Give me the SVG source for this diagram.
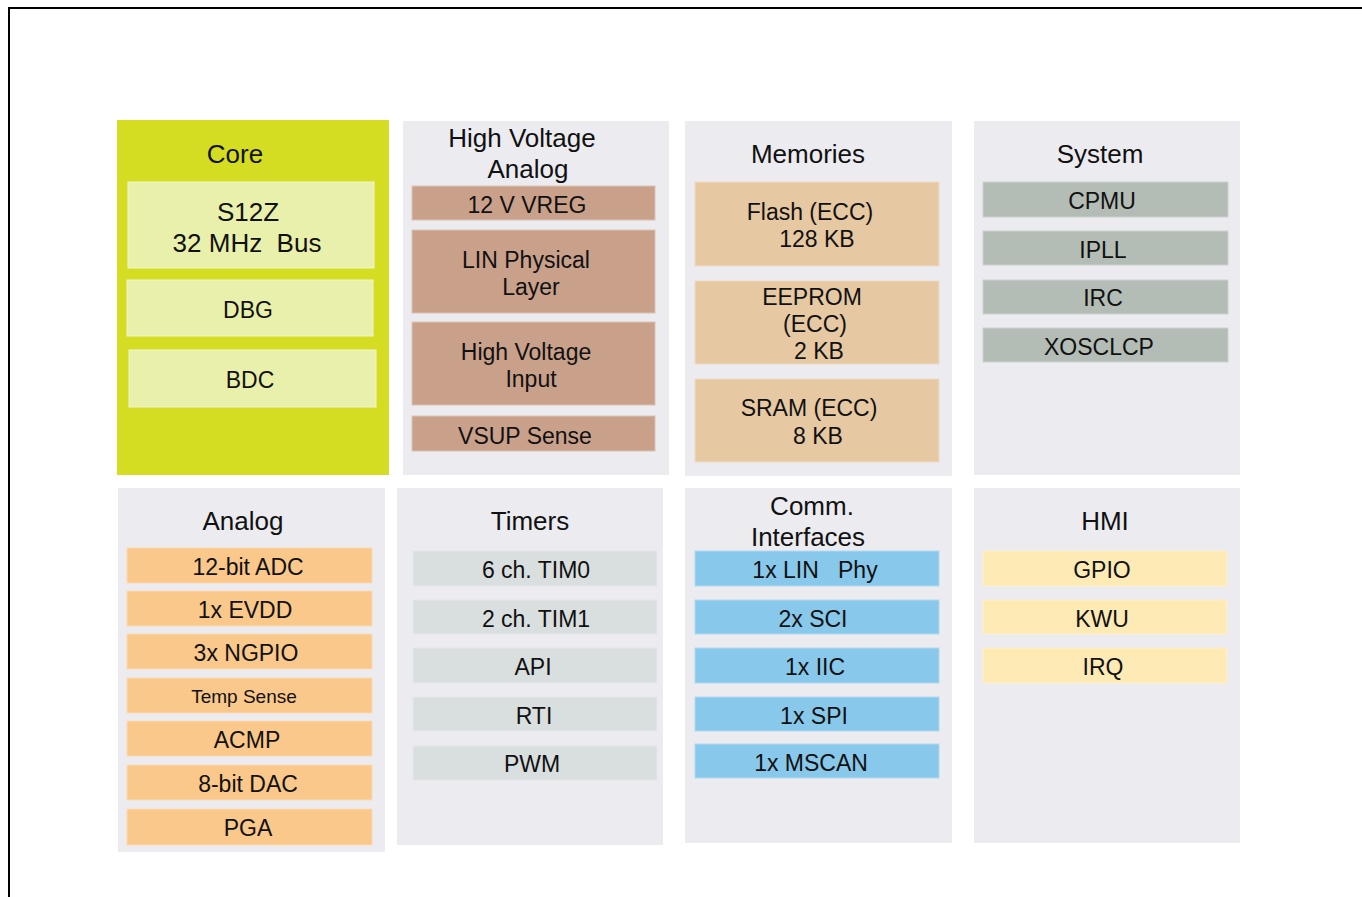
<svg xmlns="http://www.w3.org/2000/svg" width="1362" height="897" viewBox="0 0 1362 897">
<style>
text{font-family:"Liberation Sans",Arial,sans-serif;fill:#111;text-anchor:middle;white-space:pre}
.t{font-size:26px}
.i{font-size:23px}
.s{font-size:19px}
.panel{fill:#ebebf0}
.core{fill:#d4dd22}
.cin{fill:#e9f0ab;stroke:#f2f5cf;stroke-width:1}
.hv{fill:#c9a08a;stroke:#dcc3b5;stroke-width:1}
.mem{fill:#e6c8a3;stroke:#efdcc4;stroke-width:1}
.sys{fill:#b3bcb5;stroke:#cdd3ce;stroke-width:1}
.ana{fill:#f9c88a;stroke:#fbdbb3;stroke-width:1}
.tim{fill:#d9dedf;stroke:#e5e8e9;stroke-width:1}
.com{fill:#88c8ea;stroke:#b1daf1;stroke-width:1}
.hmi{fill:#fdeab4;stroke:#fef1cf;stroke-width:1}
</style>
<rect width="1362" height="897" fill="#ffffff"/>
<path d="M9,898 V8 H1363" fill="none" stroke="#000" stroke-width="2"/>

<g id="core">
<rect class="core" x="117" y="120" width="272" height="355"/>
<text class="t" x="235" y="163">Core</text>
<g id="s12z"><rect class="cin" x="128" y="182" width="246" height="86"/>
<text class="t" x="248" y="221">S12Z</text><text class="t" x="247" y="252">32 MHz  Bus</text></g>
<g id="dbg"><rect class="cin" x="127" y="280" width="246" height="56"/><text class="i" x="248" y="318">DBG</text></g>
<g id="bdc"><rect class="cin" x="129" y="350" width="247" height="57"/><text class="i" x="250" y="388">BDC</text></g>
</g>

<g id="hv-analog">
<rect class="panel" x="403" y="121" width="266" height="354"/>
<text class="t" x="522" y="147">High Voltage</text>
<text class="t" x="528" y="178">Analog</text>
<g id="vreg"><rect class="hv" x="412" y="186" width="243" height="34"/><text class="i" x="527" y="213">12 V VREG</text></g>
<g id="linphy-layer"><rect class="hv" x="412" y="230" width="243" height="83"/><text class="i" x="526" y="268">LIN Physical</text><text class="i" x="531" y="295">Layer</text></g>
<g id="hvi"><rect class="hv" x="412" y="322" width="243" height="83"/><text class="i" x="526" y="360">High Voltage</text><text class="i" x="531" y="387">Input</text></g>
<g id="vsup"><rect class="hv" x="412" y="416" width="243" height="35"/><text class="i" x="525" y="444">VSUP Sense</text></g>
</g>

<g id="memories">
<rect class="panel" x="685" y="121" width="267" height="355"/>
<text class="t" x="808" y="163">Memories</text>
<g id="flash"><rect class="mem" x="695" y="182" width="244" height="84"/><text class="i" x="810" y="220">Flash (ECC)</text><text class="i" x="817" y="247">128 KB</text></g>
<g id="eeprom"><rect class="mem" x="695" y="281" width="244" height="83"/><text class="i" x="812" y="305">EEPROM</text><text class="i" x="815" y="332">(ECC)</text><text class="i" x="819" y="359">2 KB</text></g>
<g id="sram"><rect class="mem" x="695" y="379" width="244" height="83"/><text class="i" x="809" y="416">SRAM (ECC)</text><text class="i" x="818" y="444">8 KB</text></g>
</g>

<g id="system">
<rect class="panel" x="974" y="121" width="266" height="354"/>
<text class="t" x="1100" y="163">System</text>
<g id="cpmu"><rect class="sys" x="983" y="182" width="245" height="35"/><text class="i" x="1102" y="209">CPMU</text></g>
<g id="ipll"><rect class="sys" x="983" y="231" width="245" height="34"/><text class="i" x="1103" y="258">IPLL</text></g>
<g id="irc"><rect class="sys" x="983" y="280" width="245" height="34"/><text class="i" x="1103" y="306">IRC</text></g>
<g id="xosclcp"><rect class="sys" x="983" y="328" width="245" height="34"/><text class="i" x="1099" y="355">XOSCLCP</text></g>
</g>

<g id="analog">
<rect class="panel" x="118" y="488" width="267" height="364"/>
<text class="t" x="243" y="530">Analog</text>
<g id="adc"><rect class="ana" x="127" y="548" width="245" height="35"/><text class="i" x="248" y="575">12-bit ADC</text></g>
<g id="evdd"><rect class="ana" x="127" y="591" width="245" height="35"/><text class="i" x="245" y="618">1x EVDD</text></g>
<g id="ngpio"><rect class="ana" x="127" y="634" width="245" height="35"/><text class="i" x="246" y="661">3x NGPIO</text></g>
<g id="temp"><rect class="ana" x="127" y="678" width="245" height="35"/><text class="s" x="244" y="703">Temp Sense</text></g>
<g id="acmp"><rect class="ana" x="127" y="721" width="245" height="35"/><text class="i" x="247" y="748">ACMP</text></g>
<g id="dac"><rect class="ana" x="127" y="765" width="245" height="35"/><text class="i" x="248" y="792">8-bit DAC</text></g>
<g id="pga"><rect class="ana" x="127" y="809" width="245" height="36"/><text class="i" x="248" y="836">PGA</text></g>
</g>

<g id="timers">
<rect class="panel" x="397" y="488" width="266" height="357"/>
<text class="t" x="530" y="530">Timers</text>
<g id="tim0"><rect class="tim" x="413" y="551" width="244" height="35"/><text class="i" x="536" y="578">6 ch. TIM0</text></g>
<g id="tim1"><rect class="tim" x="413" y="600" width="244" height="34"/><text class="i" x="536" y="627">2 ch. TIM1</text></g>
<g id="api"><rect class="tim" x="413" y="648" width="244" height="35"/><text class="i" x="533" y="675">API</text></g>
<g id="rti"><rect class="tim" x="413" y="697" width="244" height="34"/><text class="i" x="534" y="724">RTI</text></g>
<g id="pwm"><rect class="tim" x="413" y="746" width="244" height="34"/><text class="i" x="532" y="772">PWM</text></g>
</g>

<g id="comm">
<rect class="panel" x="685" y="488" width="267" height="355"/>
<text class="t" x="812" y="515">Comm.</text>
<text class="t" x="808" y="546">Interfaces</text>
<g id="linphy"><rect class="com" x="695" y="551" width="244" height="35"/><text class="i" x="815" y="578">1x LIN   Phy</text></g>
<g id="sci"><rect class="com" x="695" y="600" width="244" height="34"/><text class="i" x="813" y="627">2x SCI</text></g>
<g id="iic"><rect class="com" x="695" y="648" width="244" height="35"/><text class="i" x="815" y="675">1x IIC</text></g>
<g id="spi"><rect class="com" x="695" y="697" width="244" height="34"/><text class="i" x="814" y="724">1x SPI</text></g>
<g id="mscan"><rect class="com" x="695" y="744" width="244" height="34"/><text class="i" x="811" y="771">1x MSCAN</text></g>
</g>

<g id="hmi">
<rect class="panel" x="974" y="488" width="266" height="355"/>
<text class="t" x="1105" y="530">HMI</text>
<g id="gpio"><rect class="hmi" x="983" y="551" width="244" height="35"/><text class="i" x="1102" y="578">GPIO</text></g>
<g id="kwu"><rect class="hmi" x="983" y="600" width="244" height="34"/><text class="i" x="1102" y="627">KWU</text></g>
<g id="irq"><rect class="hmi" x="983" y="648" width="244" height="35"/><text class="i" x="1103" y="675">IRQ</text></g>
</g>

<g id="connectors"></g>
</svg>
